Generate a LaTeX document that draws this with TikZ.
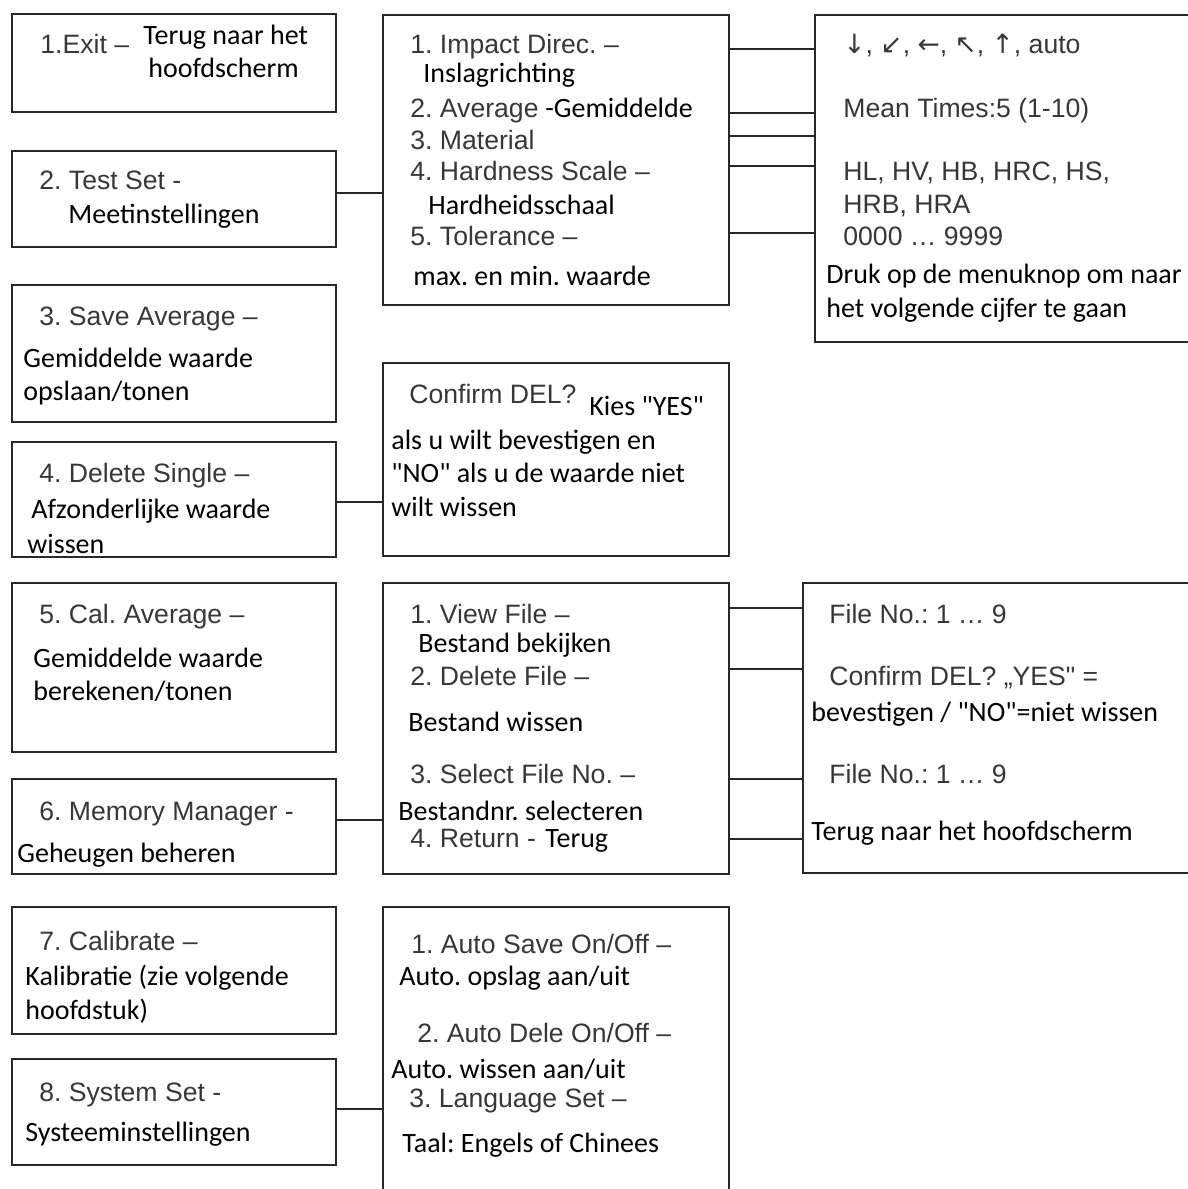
\documentclass[tikz,border=0pt]{standalone}
\usepackage{fontspec}
\setmainfont{Liberation Sans}
\newfontfamily\enfont{Liberation Sans}
\newfontfamily\nlfont{Carlito}
\newfontfamily\arrowfont{DejaVu Sans}
\usepackage{tikz}
\definecolor{LineGray}{RGB}{40,40,40}
\definecolor{TextGray}{RGB}{55,55,55}
\frenchspacing

\begin{document}
\begin{tikzpicture}[x=0.5pt,y=-0.5pt,
  box/.style 2 args={draw=LineGray,line width=1pt,anchor=north west,inner sep=0pt,outer sep=0pt,minimum width=#1*0.5pt,minimum height=#2*0.5pt},
  en/.style={anchor=base west,inner sep=0pt,text=TextGray,font=\enfont\fontsize{13.3}{15}\selectfont},
  nl/.style={anchor=base west,inner sep=0pt,text=black,font=\nlfont\fontsize{14}{16}\selectfont},
  link/.style={draw=LineGray,line width=0.8pt}]
\useasboundingbox(0,0)rectangle(1188,1189);
% main menu
\node[box={324}{98}](exit)at(12,14){};
\node[box={324}{96}](test)at(12,151){};
\node[box={324}{137}](save)at(12,285){};
\node[box={324}{115}](delete)at(12,442){};
\node[box={324}{169}](cal)at(12,583){};
\node[box={324}{95}](memory)at(12,779){};
\node[box={324}{127}](calib)at(12,907){};
\node[box={324}{106}](system)at(12,1059){};
% sub menus
\node[box={346}{290}](testsub)at(383,15){};
\node[box={346}{193}](confirm)at(383,363){};
\node[box={346}{291}](filesub)at(383,583){};
\node[box={346}{300}](syssub)at(383,907){};
% options
\node[box={400}{327}](options)at(815,15){};
\node[box={400}{290}](fileopts)at(803,583){};

% connectors
\draw[link](test.east|-0,193)--(testsub.west|-0,193);
\draw[link](delete.east|-0,502)--(confirm.west|-0,502);
\draw[link](memory.east|-0,820)--(filesub.west|-0,820);
\draw[link](system.east|-0,1109)--(syssub.west|-0,1109);
\foreach \yy in {49,113,136,166,233}{
  \draw[link](testsub.east|-0,\yy)--(options.west|-0,\yy);
}
\foreach \yy in {608,669,779,839}{
  \draw[link](filesub.east|-0,\yy)--(fileopts.west|-0,\yy);
}

% left column texts
\node[en](exitA)at(40,53){1.Exit –};
\node[nl](exitB)at(143,44){Terug naar het};
\node[nl](exitC)at(148,77){hoofdscherm};
\node[en](testA)at(39,189){2. Test Set -};
\node[nl](testB)at(68,223){Meetinstellingen};
\node[en](saveA)at(39,325){3. Save Average –};
\node[nl](saveB)at(23,367){Gemiddelde waarde};
\node[nl](saveC)at(23,400){opslaan/tonen};
\node[en](deleteA)at(39,482){4. Delete Single –};
\node[nl](deleteB)at(31,518){Afzonderlijke waarde};
\node[nl](deleteC)at(27,553){wissen};
\node[en](calA)at(39,623){5. Cal. Average –};
\node[nl](calB)at(33,667){Gemiddelde waarde};
\node[nl](calC)at(33,700){berekenen/tonen};
\node[en](memoryA)at(39,820){6. Memory Manager -};
\node[nl](memoryB)at(17,862){Geheugen beheren};
\node[en](calibA)at(39,950){7. Calibrate –};
\node[nl](calibB)at(25,985){Kalibratie (zie volgende};
\node[nl](calibC)at(25,1019){hoofdstuk)};
\node[en](systemA)at(39,1101){8. System Set -};
\node[nl](systemB)at(25,1141){Systeeminstellingen};

% middle column texts
\node[en](impactA)at(410,53){1. Impact Direc. –};
\node[nl](impactB)at(423,82){Inslagrichting};
\node[en](avgA)at(410,117){2. Average};
\node[nl](avgB)at(545,117){-Gemiddelde};
\node[en](material)at(410,149){3. Material};
\node[en](scaleA)at(410,180){4. Hardness Scale –};
\node[nl](scaleB)at(428,214){Hardheidsschaal};
\node[en](tolA)at(410,245){5. Tolerance –};
\node[nl](tolB)at(413,285){max. en min. waarde};
\node[en](confA)at(409,403){Confirm DEL?};
\node[nl](confB)at(589,415){Kies "YES"};
\node[nl](confC)at(391,449){als u wilt bevestigen en};
\node[nl](confD)at(391,482){"NO" als u de waarde niet};
\node[nl](confE)at(391,516){wilt wissen};
\node[en](viewA)at(410,623){1. View File –};
\node[nl](viewB)at(418,652){Bestand bekijken};
\node[en](delfA)at(410,685){2. Delete File –};
\node[nl](delfB)at(408,731){Bestand wissen};
\node[en](selA)at(410,783){3. Select File No. –};
\node[nl](selB)at(398,820){Bestandnr. selecteren};
\node[en](retA)at(410,847){4. Return -};
\node[nl](retB)at(545,847){Terug};
\node[en](autosA)at(411,953){1. Auto Save On/Off –};
\node[nl](autosB)at(399,985){Auto. opslag aan/uit};
\node[en](autodA)at(417,1042){2. Auto Dele On/Off –};
\node[nl](autodB)at(391,1078){Auto. wissen aan/uit};
\node[en](langA)at(409,1107){3. Language Set –};
\node[nl](langB)at(402,1152){Taal: Engels of Chinees};

% right column texts
\node[en](dirs)at(843,53){{\arrowfont ↓}, {\arrowfont ↙}, {\arrowfont ←}, {\arrowfont ↖}, {\arrowfont ↑}, auto};
\node[en](mean)at(843,117){Mean Times:5 (1-10)};
\node[en](scalesA)at(843,180){HL, HV, HB, HRC, HS,};
\node[en](scalesB)at(843,213){HRB, HRA};
\node[en](range)at(843,245){0000 … 9999};
\node[nl](pressA)at(826,283){Druk op de menuknop om naar};
\node[nl](pressB)at(826,317){het volgende cijfer te gaan};
\node[en](fileA)at(829,623){File No.: 1 … 9};
\node[en](fileB)at(829,685){Confirm DEL? „YES" =};
\node[nl](fileC)at(811,721){bevestigen / "NO"=niet wissen};
\node[en](fileD)at(829,783){File No.: 1 … 9};
\node[nl](fileE)at(811,840){Terug naar het hoofdscherm};
\end{tikzpicture}
\end{document}
